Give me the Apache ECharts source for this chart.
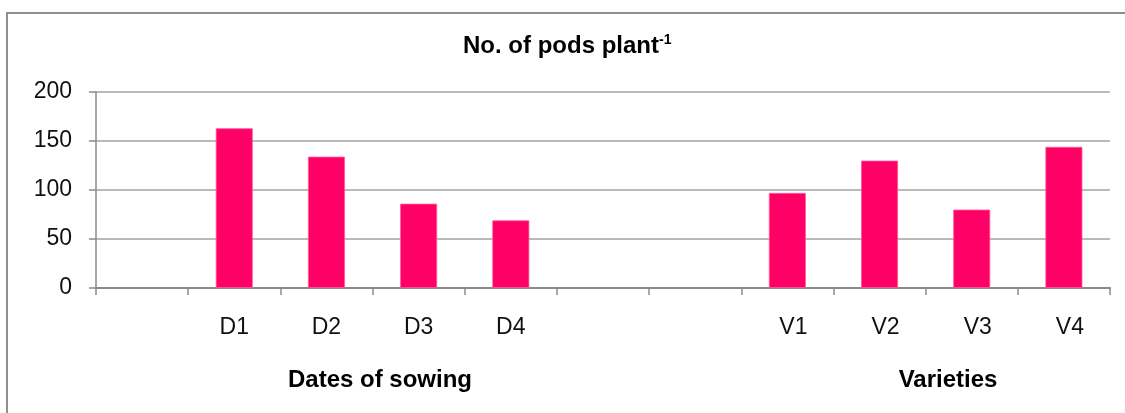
<!DOCTYPE html>
<html>
<head>
<meta charset="utf-8">
<script src="https://cdn.jsdelivr.net/npm/echarts@6/dist/echarts.min.js"></script>
<style>
html,body{margin:0;padding:0;background:#fff;}
#c{width:1125px;height:413px;}
</style>
</head>
<body>
<div id="c"></div>
<script>
// Data
var categories = [' ', 'D1', 'D2', 'D3', 'D4', '  ', '   ', 'V1', 'V2', 'V3', 'V4'];
var podsPerPlant = [null, 163, 134, 86, 69, null, null, 97, 130, 80, 144];
var yTicks = { min: 0, max: 200, interval: 50 };
var titleMain = 'No. of pods plant';
var titleSup = '-1';
var groupNames = ['Dates of sowing', 'Varieties'];

var FONT = '"Liberation Sans", Arial, sans-serif';
var chart = echarts.init(document.getElementById('c'), null, { renderer: 'canvas' });

chart.setOption({
  animation: false,
  backgroundColor: '#ffffff',
  title: {
    text: '{a|' + titleMain + '}{s|' + titleSup + '}',
    left: 463,
    top: 33,
    padding: 0,
    textStyle: {
      rich: {
        a: { fontFamily: FONT, fontWeight: 'bold', fontSize: 24, color: '#000', lineHeight: 26 },
        s: { fontFamily: FONT, fontWeight: 'bold', fontSize: 14, color: '#000', verticalAlign: 'top', lineHeight: 26 }
      }
    }
  },
  grid: { left: 96, right: 15, top: 92, bottom: 125, containLabel: false },
  xAxis: {
    type: 'category',
    data: categories,
    boundaryGap: true,
    axisLine: { show: true, lineStyle: { color: '#8a8a8a', width: 2 } },
    axisTick: { show: true, interval: 0, length: 7, lineStyle: { color: '#8a8a8a', width: 1.5 } },
    axisLabel: {
      interval: 0,
      margin: 28,
      fontFamily: FONT,
      fontSize: 23,
      color: '#111',
      formatter: function (v) {
        return v.charAt(0) === 'V' ? '{v|' + v + '}' : v;
      },
      rich: {
        v: { fontFamily: FONT, fontSize: 23, color: '#111', padding: [0, 0, 0, 12] }
      }
    },
    splitLine: { show: false }
  },
  yAxis: {
    type: 'value',
    min: yTicks.min,
    max: yTicks.max,
    interval: yTicks.interval,
    axisLine: { show: true, lineStyle: { color: '#8a8a8a', width: 1.5 } },
    axisTick: { show: true, length: 7, lineStyle: { color: '#8a8a8a', width: 1.5 } },
    axisLabel: { margin: 24, fontFamily: FONT, fontSize: 23, color: '#111' },
    splitLine: { show: true, lineStyle: { color: '#a3a3a3', width: 1.5 } }
  },
  series: [{
    type: 'bar',
    data: podsPerPlant,
    barWidth: 37,
    itemStyle: { color: '#ff0066', borderColor: '#ff5c97', borderWidth: 0.8 }
  }],
  graphic: [
    {
      type: 'rect',
      shape: { x: 7, y: 13, width: 1140, height: 430 },
      style: { fill: 'none', stroke: '#8f8f8f', lineWidth: 2 },
      silent: true
    },
    {
      type: 'text',
      x: 380, y: 380,
      style: { text: groupNames[0], font: 'bold 24px ' + FONT, fill: '#000', align: 'center', verticalAlign: 'middle' }
    },
    {
      type: 'text',
      x: 948, y: 380,
      style: { text: groupNames[1], font: 'bold 24px ' + FONT, fill: '#000', align: 'center', verticalAlign: 'middle' }
    }
  ]
});
</script>
</body>
</html>
